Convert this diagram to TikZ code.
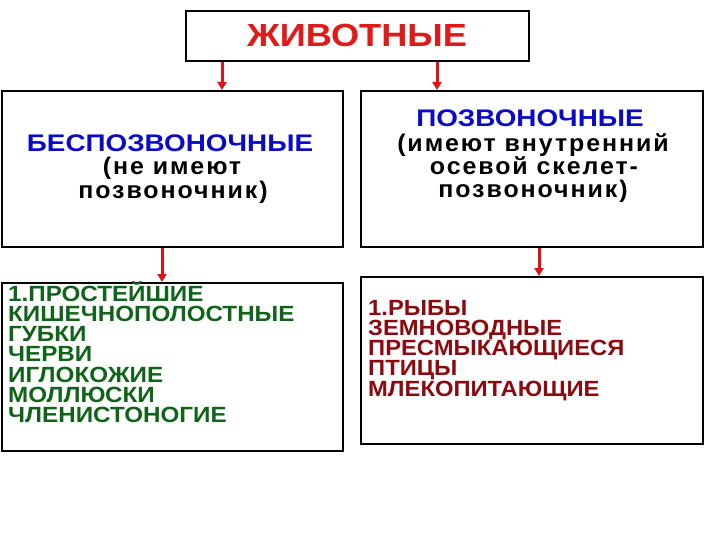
\documentclass[tikz,border=0pt]{standalone}
\usepackage{fontspec}
\setmainfont{Liberation Sans}
\usetikzlibrary{arrows.meta}
\definecolor{titlered}{RGB}{225,25,25}
\definecolor{headblue}{RGB}{10,10,200}
\definecolor{listgreen}{RGB}{15,100,25}
\definecolor{listred}{RGB}{140,10,15}
\definecolor{arrred}{RGB}{220,20,20}
\begin{document}
\begin{tikzpicture}[x=1pt,y=-1pt,
  box/.style={draw=black,line width=2pt,fill=white,anchor=north west,inner sep=0pt},
  arr/.style={draw=arrred,line width=3pt,-{Triangle[length=8pt,width=9pt]}},
  titletext/.style={font=\fontsize{32}{32}\selectfont\bfseries\addfontfeature{FakeStretch=1.13},text=titlered,anchor=base,inner sep=0pt},
  headtext/.style={font=\fontsize{24}{24}\selectfont\bfseries\addfontfeature{FakeStretch=1.16},text=headblue,anchor=base,inner sep=0pt},
  subtext/.style={font=\fontsize{24}{24}\selectfont\bfseries\addfontfeature{FakeStretch=1.04,LetterSpace=8},text=black,anchor=base,inner sep=0pt},
  greentext/.style={font=\fontsize{22}{22}\selectfont\bfseries\addfontfeature{FakeStretch=1.1},text=listgreen,anchor=base west,inner sep=0pt},
  redtext/.style={font=\fontsize{22}{22}\selectfont\bfseries\addfontfeature{FakeStretch=1.08},text=listred,anchor=base west,inner sep=0pt}]
\useasboundingbox (0,0) rectangle (720,540);
% boxes
\node[box,minimum width=343pt,minimum height=50pt] (top) at (185,10) {};
\node[box,minimum width=341pt,minimum height=156pt] (inv) at (1,90) {};
\node[box,minimum width=342pt,minimum height=156pt] (vert) at (360,90) {};
\node[box,minimum width=341pt,minimum height=168pt] (invlist) at (1,282) {};
\node[box,minimum width=342pt,minimum height=167pt] (vertlist) at (360,276) {};
% texts
\node[titletext] (ttl) at (357,46.5) {ЖИВОТНЫЕ};
\node[headtext] (h1) at (170,151.5) {БЕСПОЗВОНОЧНЫЕ};
\node[subtext] (s11) at (172,175) {(не имеют};
\node[subtext] (s12) at (173,198.5) {позвоночник)};
\node[headtext] (h2) at (530,127) {ПОЗВОНОЧНЫЕ};
\node[subtext] (s21) at (533,151.5) {(имеют внутренний};
\node[subtext] (s22) at (534,175) {осевой скелет-};
\node[subtext] (s23) at (533,198) {позвоночник)};
\foreach \t [count=\i] in {1.ПРОСТЕЙШИЕ,КИШЕЧНОПОЛОСТНЫЕ,ГУБКИ,ЧЕРВИ,ИГЛОКОЖИЕ,МОЛЛЮСКИ,ЧЛЕНИСТОНОГИЕ}
  \node[greentext] (g\i) at (8,{301+20.33*(\i-1)}) {\t};
\foreach \t [count=\i] in {1.РЫБЫ,ЗЕМНОВОДНЫЕ,ПРЕСМЫКАЮЩИЕСЯ,ПТИЦЫ,МЛЕКОПИТАЮЩИЕ}
  \node[redtext] (r\i) at (368,{315+20.25*(\i-1)}) {\t};
% arrows
\coordinate (xa) at (222,0);
\coordinate (xb) at (437,0);
\coordinate (xc) at (162,0);
\coordinate (xd) at (539,0);
\draw[arr] (top.south -| xa) -- (inv.north -| xa);
\draw[arr] (top.south -| xb) -- (vert.north -| xb);
\draw[arr] (inv.south -| xc) -- (invlist.north -| xc);
\draw[arr] (vert.south -| xd) -- (vertlist.north -| xd);
\end{tikzpicture}
\end{document}
